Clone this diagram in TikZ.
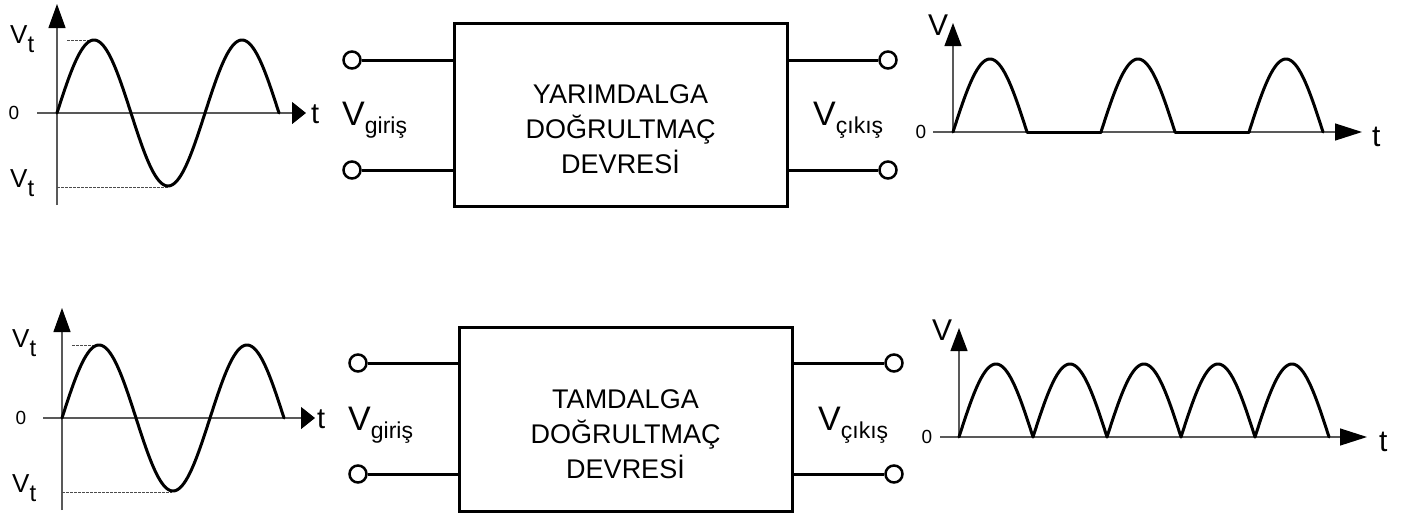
\documentclass[tikz,border=0pt]{standalone}
\usepackage{fontspec}
\setmainfont{Liberation Sans}
\usetikzlibrary{arrows.meta}
\newcommand\fsz[1]{\fontsize{#1}{#1}\selectfont}
\newcommand\mysub[3]{\raisebox{#1}{\fsz{#2}#3}}
\begin{document}
\begin{tikzpicture}[x=1pt,y=-1pt,
  axis/.style={line width=1.3pt, draw=black!65},
  yarrowL/.style={-{Triangle[length=24pt,width=17pt,color=black]}},
  xarrowL/.style={-{Triangle[length=14pt,width=22pt,color=black]}},
  yarrowR/.style={-{Triangle[length=23pt,width=17pt,color=black]}},
  xarrowR/.style={-{Triangle[length=27pt,width=17pt,color=black]}},
  curve/.style={line width=3pt, line join=round, line cap=round},
  guide/.style={line width=0.8pt, draw=black!70, dash pattern=on 2.5pt off 1.5pt},
  blockbox/.style={draw, line width=3pt, minimum width=333pt, minimum height=183pt, inner sep=0pt},
  blocktext/.style={align=center, inner sep=0pt, font=\fontsize{27}{35}\selectfont},
  term/.style={circle, draw, line width=2.5pt, fill=white, minimum size=17pt, inner sep=0pt},
  wire/.style={line width=3pt},
  lbl/.style={inner sep=0pt, anchor=base west},
  zero/.style={inner sep=0pt, font=\fsz{19}},
]
\useasboundingbox (0,0) rectangle (1407,517);

% ---------- top-left input sine ----------
\draw[axis, yarrowL] (57,205) -- (57,4);
\draw[axis, xarrowL] (37,113) -- (306,113);
\draw[guide] (67,40) -- (93,40);
\draw[guide] (57,187) -- (168,187);
\draw[curve] plot[domain=0:222, samples=121] ({57+\x}, {113-73*sin(\x/148*360)});
\node[lbl, font=\fsz{26}] (vt1a) at (10,43) {V\mysub{-9pt}{24}{t}};
\node[lbl, font=\fsz{26}] (vt1b) at (10,187) {V\mysub{-9pt}{24}{t}};
\node[zero] (z1) at (14,113) {0};
\node[lbl, font=\fsz{29}] (t1) at (311,123) {t};

% ---------- top block ----------
\node[blockbox] (b1) at (620.5,114.5) {};
\node[blocktext] (b1t) at (620.5,129) {YARIMDALGA\\DOĞRULTMAÇ\\DEVRESİ};
\node[term] (i1a) at (352,60) {};
\node[term] (i1b) at (352,170) {};
\node[term] (o1a) at (888,60) {};
\node[term] (o1b) at (888,170) {};
\draw[wire] (i1a.east) -- (i1a.east -| b1.west);
\draw[wire] (i1b.east) -- (i1b.east -| b1.west);
\draw[wire] (o1a.west) -- (o1a.west -| b1.east);
\draw[wire] (o1b.west) -- (o1b.west -| b1.east);
\node[lbl, font=\fsz{34}] (vg1) at (342,125) {V\mysub{-8pt}{23}{giriş}};
\node[lbl, font=\fsz{34}] (vc1) at (813,125) {V\mysub{-8pt}{23}{çıkış}};

% ---------- top-right half-wave ----------
\draw[axis, yarrowR] (953,132) -- (953,23);
\draw[axis, xarrowR] (933,132) -- (1362,132);
\foreach \s in {953,1101,1249}
  \draw[curve] plot[domain=0:74, samples=41] ({\s+\x}, {132-73*sin(\x/74*180)});
\draw[curve] (1027,132) -- (1101,132) (1175,132) -- (1249,132);
\node[lbl, font=\fsz{30}] (v1) at (928,35) {V};
\node[zero] (z2) at (921,132) {0};
\node[lbl, font=\fsz{30}] (t2) at (1372,146) {t};

% ---------- bottom-left input sine ----------
\draw[axis, yarrowL] (62,510) -- (62,308);
\draw[axis, xarrowL] (43,418) -- (315,418);
\draw[guide] (72,345) -- (100,345);
\draw[guide] (62,492) -- (172,492);
\draw[curve] plot[domain=0:222, samples=121] ({62+\x}, {418-73*sin(\x/148*360)});
\node[lbl, font=\fsz{26}] (vt2a) at (12,347) {V\mysub{-9pt}{24}{t}};
\node[lbl, font=\fsz{26}] (vt2b) at (12,492) {V\mysub{-9pt}{24}{t}};
\node[zero] (z3) at (21,418) {0};
\node[lbl, font=\fsz{29}] (t3) at (317,428) {t};

% ---------- bottom block ----------
\node[blockbox, minimum height=184pt] (b2) at (625.5,419) {};
\node[blocktext] (b2t) at (625.5,434) {TAMDALGA\\DOĞRULTMAÇ\\DEVRESİ};
\node[term] (i2a) at (358,363) {};
\node[term] (i2b) at (358,474) {};
\node[term] (o2a) at (894,363) {};
\node[term] (o2b) at (894,474) {};
\draw[wire] (i2a.east) -- (i2a.east -| b2.west);
\draw[wire] (i2b.east) -- (i2b.east -| b2.west);
\draw[wire] (o2a.west) -- (o2a.west -| b2.east);
\draw[wire] (o2b.west) -- (o2b.west -| b2.east);
\node[lbl, font=\fsz{34}] (vg2) at (348,430) {V\mysub{-8pt}{23}{giriş}};
\node[lbl, font=\fsz{34}] (vc2) at (818,430) {V\mysub{-8pt}{23}{çıkış}};

% ---------- bottom-right full-wave ----------
\draw[axis, yarrowR] (959,437) -- (959,328);
\draw[axis, xarrowR] (940,437) -- (1367,437);
\foreach \s in {959,1033,1107,1181,1255}
  \draw[curve] plot[domain=0:74, samples=41] ({\s+\x}, {437-73*sin(\x/74*180)});
\node[lbl, font=\fsz{30}] (v2) at (932,340) {V};
\node[zero] (z4) at (927,437) {0};
\node[lbl, font=\fsz{30}] (t4) at (1379,451) {t};
\end{tikzpicture}
\end{document}
